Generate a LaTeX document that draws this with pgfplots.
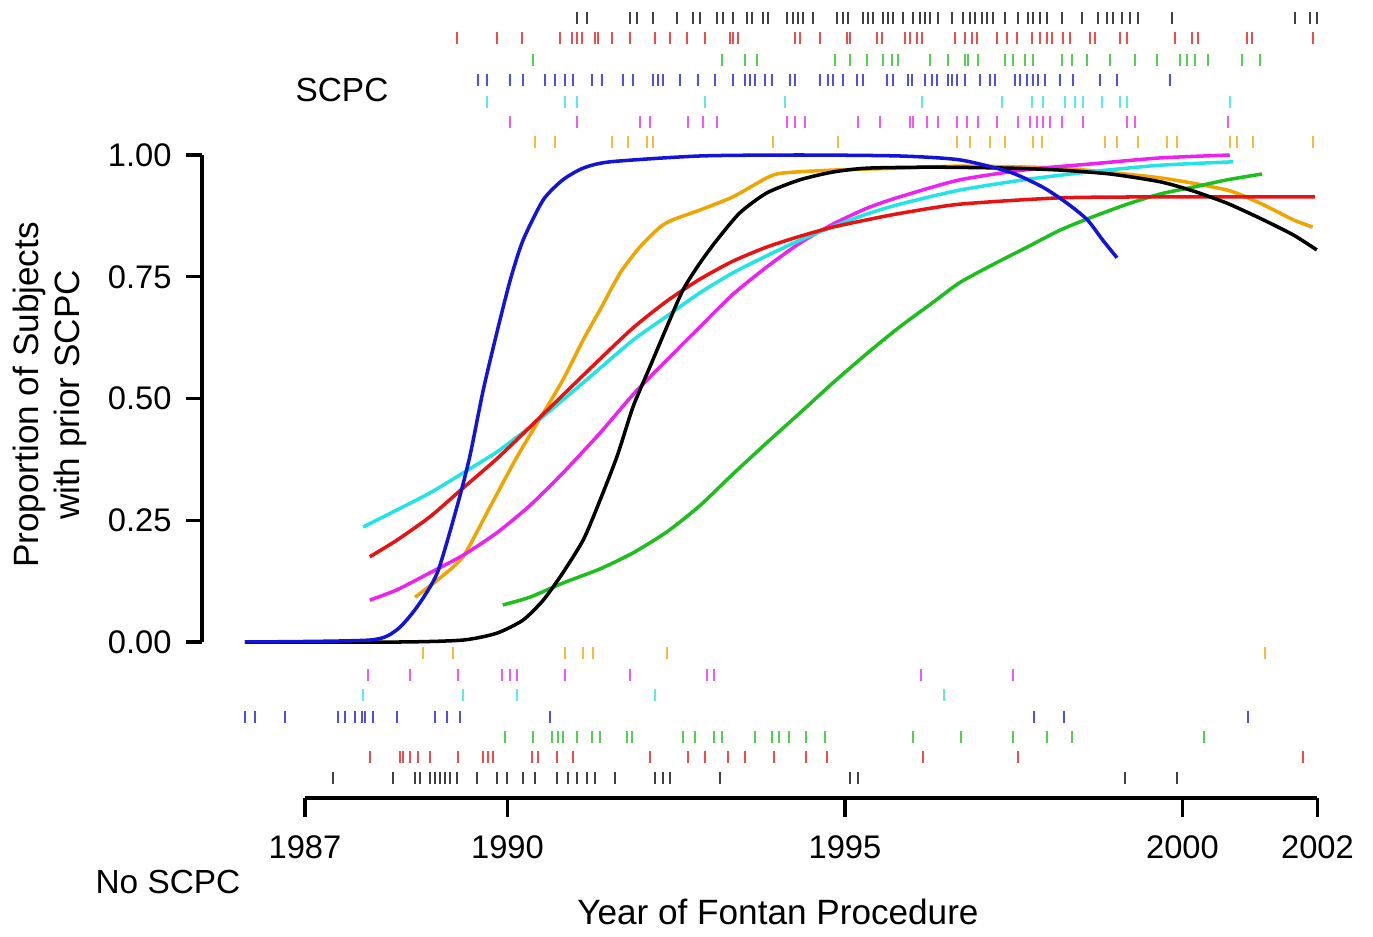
\documentclass[border=0pt]{standalone}
\usepackage{fontspec}
\setmainfont{Liberation Sans}
\usepackage{pgfplots}
\pgfplotsset{compat=1.18}
\definecolor{cBlue}{HTML}{1414D6}
\definecolor{cRed}{HTML}{E81212}
\definecolor{cGreen}{HTML}{1EBE1E}
\definecolor{cCyan}{HTML}{22E4E4}
\definecolor{cMag}{HTML}{EE22EE}
\definecolor{cOrange}{HTML}{F0A400}

\pgfplotsset{
  rug/.style={only marks, mark=|, mark size=0.06cm, #1, opacity=0.75,
    mark options={line width=0.6pt}},
  curve/.style={#1, line width=1pt, mark=none, smooth, tension=0.4},
}

\begin{document}
\begin{tikzpicture}
\begin{axis}[
    scale only axis,
    width=11.155cm, height=4.87cm,
    xmin=1985.474, xmax=2002,
    ymin=0, ymax=1,
    axis x line=none,
    axis y line*=left,
    y axis line style={line width=0.9pt, -},
    xtick=\empty,
    ytick={0,0.25,0.5,0.75,1},
    yticklabels={0.00,0.25,0.50,0.75,1.00},
    tick align=outside,
    major tick length=0.16cm,
    major tick style={line width=0.9pt, black},
    yticklabel style={font=\fontsize{9.3}{10}\selectfont, xshift=-0.02cm},
    /pgf/number format/assume math mode=true,
    clip=false,
]

% fitted curves
\addplot[curve=cOrange] coordinates {
(1988.63,0.092) (1988.96,0.127) (1989.34,0.175) (1989.74,0.277) (1990.14,0.380)
(1990.53,0.470) (1990.82,0.538) (1991.12,0.620) (1991.37,0.682) (1991.67,0.758)
(1991.96,0.811) (1992.26,0.852) (1992.45,0.867) (1992.85,0.887) (1993.34,0.914)
(1993.84,0.953) (1994.08,0.963) (1994.82,0.969) (1995.81,0.973) (1996.70,0.977)
(1998.19,0.973) (1999.67,0.953) (2000.66,0.928) (2001.15,0.901) (2001.64,0.867)
(2001.93,0.852)
};
\addplot[curve=cGreen] coordinates {
(1989.93,0.076) (1990.33,0.092) (1990.82,0.121) (1991.37,0.150) (1991.86,0.183)
(1992.36,0.226) (1992.85,0.280) (1993.34,0.345) (1993.84,0.409) (1994.33,0.470)
(1994.82,0.532) (1995.33,0.593) (1995.81,0.647) (1996.30,0.697) (1996.70,0.738)
(1997.19,0.775) (1997.70,0.811) (1998.19,0.846) (1998.67,0.873) (1999.18,0.899)
(1999.67,0.920) (2000.16,0.934) (2000.66,0.949) (2001.18,0.961)
};
\addplot[curve=cMag] coordinates {
(1987.96,0.086) (1988.36,0.107) (1988.85,0.142) (1989.34,0.178) (1989.84,0.224)
(1990.33,0.280) (1990.82,0.347) (1991.37,0.429) (1991.86,0.508) (1992.36,0.579)
(1992.85,0.647) (1993.34,0.714) (1993.84,0.770) (1994.33,0.819) (1994.82,0.858)
(1995.33,0.891) (1995.81,0.914) (1996.70,0.949) (1997.70,0.970) (1998.67,0.982)
(1999.67,0.994) (2000.70,1.000)
};
\addplot[curve=cCyan] coordinates {
(1987.86,0.236) (1988.36,0.271) (1988.85,0.306) (1989.34,0.347) (1989.84,0.390)
(1990.33,0.441) (1990.82,0.497) (1991.37,0.562) (1991.86,0.620) (1992.36,0.669)
(1992.85,0.717) (1993.34,0.758) (1993.84,0.793) (1994.33,0.825) (1994.82,0.853)
(1995.33,0.879) (1995.81,0.899) (1996.70,0.928) (1997.70,0.950) (1998.67,0.966)
(1999.67,0.979) (2000.75,0.986)
};
\addplot[curve=cRed] coordinates {
(1987.96,0.175) (1988.36,0.209) (1988.85,0.257) (1989.34,0.316) (1989.84,0.376)
(1990.33,0.441) (1990.82,0.507) (1991.37,0.581) (1991.86,0.645) (1992.36,0.700)
(1992.85,0.745) (1993.34,0.782) (1993.84,0.811) (1994.33,0.833) (1994.82,0.852)
(1995.33,0.867) (1995.81,0.880) (1996.70,0.899) (1998.19,0.912) (1999.67,0.914)
(2001.96,0.914)
};
\addplot[curve=black] coordinates {
(1986.11,0) (1988.41,0) (1989.34,0.004) (1989.84,0.018) (1990.23,0.045)
(1990.53,0.086) (1990.82,0.142) (1991.12,0.209) (1991.33,0.277) (1991.62,0.380)
(1991.86,0.483) (1992.11,0.565) (1992.36,0.647) (1992.60,0.723) (1992.85,0.778)
(1993.10,0.825) (1993.44,0.881) (1993.84,0.922) (1994.33,0.949) (1994.82,0.965)
(1995.33,0.973) (1996.30,0.975) (1997.44,0.973) (1998.19,0.969) (1998.93,0.961)
(1999.67,0.945) (2000.16,0.926) (2000.66,0.901) (2001.15,0.870) (2001.64,0.836)
(2001.99,0.805)
};
\addplot[curve=cBlue] coordinates {
(1986.11,0) (1987.96,0.004) (1988.36,0.025) (1988.66,0.072) (1988.96,0.142)
(1989.25,0.277) (1989.44,0.380) (1989.64,0.517) (1989.84,0.634) (1990.04,0.743)
(1990.23,0.825) (1990.53,0.908) (1990.82,0.949) (1991.12,0.973) (1991.52,0.986)
(1992.85,0.998) (1994.33,1.000) (1995.81,0.998) (1996.70,0.990) (1997.44,0.965)
(1997.93,0.934) (1998.29,0.901) (1998.59,0.867) (1998.82,0.825) (1999.03,0.789)
};

% rug: subjects with prior SCPC (top)
\addplot[rug=black] table[header=false, x index=0, y expr=1.281, row sep=\\] {
1991.03\\ 1991.18\\ 1991.81\\ 1991.92\\ 1992.16\\ 1992.51\\ 1992.75\\ 1992.85\\
1993.10\\ 1993.19\\ 1993.34\\ 1993.55\\ 1993.62\\ 1993.79\\ 1993.86\\ 1994.14\\
1994.23\\ 1994.30\\ 1994.38\\ 1994.53\\ 1994.88\\ 1994.97\\ 1995.04\\ 1995.27\\
1995.34\\ 1995.41\\ 1995.56\\ 1995.64\\ 1995.71\\ 1995.86\\ 1996.01\\ 1996.11\\
1996.19\\ 1996.26\\ 1996.38\\ 1996.59\\ 1996.75\\ 1996.85\\ 1996.93\\ 1997.03\\
1997.10\\ 1997.19\\ 1997.37\\ 1997.56\\ 1997.71\\ 1997.79\\ 1997.89\\ 1997.99\\
1998.21\\ 1998.51\\ 1998.75\\ 1998.88\\ 1998.97\\ 1999.10\\ 1999.22\\ 1999.34\\
1999.84\\ 2001.67\\ 2001.89\\ 2001.99\\
};
\addplot[rug=cRed] table[header=false, x index=0, y expr=1.240, row sep=\\] {
1989.25\\ 1989.84\\ 1990.21\\ 1990.78\\ 1990.96\\ 1991.03\\ 1991.10\\ 1991.30\\
1991.34\\ 1991.55\\ 1991.81\\ 1992.19\\ 1992.41\\ 1992.66\\ 1992.93\\ 1993.30\\
1993.34\\ 1993.41\\ 1994.26\\ 1994.33\\ 1994.63\\ 1995.03\\ 1995.07\\ 1995.47\\
1995.55\\ 1995.89\\ 1995.96\\ 1996.07\\ 1996.14\\ 1996.63\\ 1996.78\\ 1996.88\\
1996.96\\ 1997.25\\ 1997.40\\ 1997.55\\ 1997.77\\ 1997.89\\ 1997.99\\ 1998.07\\
1998.23\\ 1998.33\\ 1998.63\\ 1998.70\\ 1999.07\\ 1999.18\\ 1999.89\\ 2000.14\\
2000.23\\ 2000.96\\ 2001.03\\ 2001.93\\
};
\addplot[rug=cGreen] table[header=false, x index=0, y expr=1.195, row sep=\\] {
1990.38\\ 1993.18\\ 1993.52\\ 1993.70\\ 1994.85\\ 1995.07\\ 1995.33\\ 1995.56\\
1995.70\\ 1995.79\\ 1996.26\\ 1996.53\\ 1996.78\\ 1996.82\\ 1996.97\\ 1997.37\\
1997.49\\ 1997.67\\ 1997.79\\ 1998.21\\ 1998.36\\ 1998.59\\ 1998.93\\ 1999.30\\
1999.62\\ 1999.96\\ 2000.07\\ 2000.19\\ 2000.38\\ 2000.88\\ 2001.15\\
};
\addplot[rug=cBlue] table[header=false, x index=0, y expr=1.154, row sep=\\] {
1989.56\\ 1989.70\\ 1990.04\\ 1990.23\\ 1990.56\\ 1990.70\\ 1990.85\\ 1990.97\\
1991.25\\ 1991.40\\ 1991.71\\ 1991.86\\ 1992.16\\ 1992.23\\ 1992.30\\ 1992.56\\
1992.82\\ 1993.07\\ 1993.34\\ 1993.52\\ 1993.59\\ 1993.67\\ 1993.81\\ 1993.92\\
1994.19\\ 1994.26\\ 1994.63\\ 1994.75\\ 1994.82\\ 1994.97\\ 1995.18\\ 1995.27\\
1995.62\\ 1995.71\\ 1995.93\\ 1995.99\\ 1996.19\\ 1996.29\\ 1996.36\\ 1996.53\\
1996.59\\ 1996.66\\ 1996.78\\ 1997.00\\ 1997.15\\ 1997.22\\ 1997.52\\ 1997.59\\
1997.70\\ 1997.79\\ 1997.86\\ 1997.96\\ 1998.19\\ 1998.38\\ 1998.78\\ 1999.03\\
1999.81\\
};
\addplot[rug=cCyan] table[header=false, x index=0, y expr=1.109, row sep=\\] {
1989.70\\ 1990.85\\ 1991.03\\ 1992.93\\ 1994.11\\ 1996.14\\ 1997.33\\ 1997.77\\
1997.93\\ 1998.26\\ 1998.41\\ 1998.53\\ 1998.81\\ 1999.07\\ 1999.18\\ 2000.70\\
};
\addplot[rug=cMag] table[header=false, x index=0, y expr=1.068, row sep=\\] {
1990.04\\ 1991.03\\ 1991.96\\ 1992.11\\ 1992.67\\ 1992.90\\ 1993.10\\ 1994.14\\
1994.26\\ 1994.41\\ 1995.19\\ 1995.52\\ 1995.96\\ 1996.01\\ 1996.21\\ 1996.38\\
1996.66\\ 1996.81\\ 1996.97\\ 1997.25\\ 1997.56\\ 1997.74\\ 1997.84\\ 1997.93\\
1998.04\\ 1998.21\\ 1998.53\\ 1999.18\\ 1999.30\\ 2000.67\\
};
\addplot[rug=cOrange] table[header=false, x index=0, y expr=1.027, row sep=\\] {
1990.41\\ 1990.70\\ 1991.55\\ 1991.79\\ 1992.07\\ 1992.16\\ 1993.93\\ 1994.90\\
1996.66\\ 1996.85\\ 1997.15\\ 1997.37\\ 1997.79\\ 1997.92\\ 1998.85\\ 1999.03\\
1999.34\\ 1999.77\\ 1999.92\\ 2000.70\\ 2000.81\\ 2001.04\\ 2001.93\\
};

% rug: subjects without SCPC (bottom)
\addplot[rug=cOrange] table[header=false, x index=0, y expr=-0.023, row sep=\\] {
1988.75\\ 1989.19\\ 1990.85\\ 1991.12\\ 1991.27\\ 1992.36\\ 2001.22\\
};
\addplot[rug=cMag] table[header=false, x index=0, y expr=-0.068, row sep=\\] {
1987.93\\ 1988.56\\ 1989.27\\ 1989.92\\ 1990.04\\ 1990.14\\ 1990.85\\ 1991.81\\
1992.96\\ 1993.06\\ 1996.13\\ 1997.49\\
};
\addplot[rug=cCyan] table[header=false, x index=0, y expr=-0.109, row sep=\\] {
1987.86\\ 1989.34\\ 1990.14\\ 1992.19\\ 1996.47\\
};
\addplot[rug=cBlue] table[header=false, x index=0, y expr=-0.154, row sep=\\] {
1986.11\\ 1986.26\\ 1986.70\\ 1987.49\\ 1987.59\\ 1987.74\\ 1987.84\\ 1987.89\\
1988.01\\ 1988.36\\ 1988.93\\ 1989.10\\ 1989.30\\ 1990.63\\ 1997.80\\ 1998.24\\
2000.97\\
};
\addplot[rug=cGreen] table[header=false, x index=0, y expr=-0.195, row sep=\\] {
1989.96\\ 1990.38\\ 1990.66\\ 1990.75\\ 1990.82\\ 1991.03\\ 1991.25\\ 1991.37\\
1991.77\\ 1991.84\\ 1992.60\\ 1992.78\\ 1993.06\\ 1993.18\\ 1993.67\\ 1993.92\\
1994.02\\ 1994.17\\ 1994.42\\ 1994.70\\ 1996.01\\ 1996.72\\ 1997.49\\ 1997.99\\
1998.36\\ 2000.32\\
};
\addplot[rug=cRed] table[header=false, x index=0, y expr=-0.236, row sep=\\] {
1987.96\\ 1988.41\\ 1988.45\\ 1988.56\\ 1988.67\\ 1988.85\\ 1989.27\\ 1989.64\\
1989.71\\ 1989.79\\ 1990.36\\ 1990.45\\ 1990.73\\ 1990.97\\ 1992.11\\ 1992.67\\
1992.93\\ 1993.27\\ 1993.52\\ 1993.95\\ 1994.42\\ 1994.73\\ 1996.16\\ 1997.56\\
2001.79\\
};
\addplot[rug=black] table[header=false, x index=0, y expr=-0.279, row sep=\\] {
1987.41\\ 1988.30\\ 1988.63\\ 1988.70\\ 1988.85\\ 1988.93\\ 1989.00\\ 1989.07\\
1989.15\\ 1989.25\\ 1989.55\\ 1989.84\\ 1989.99\\ 1990.23\\ 1990.41\\ 1990.73\\
1990.90\\ 1991.03\\ 1991.18\\ 1991.30\\ 1991.59\\ 1992.19\\ 1992.30\\ 1992.41\\
1993.15\\ 1995.07\\ 1995.19\\ 1999.15\\ 1999.92\\
};
\end{axis}

% separate year axis, offset below the rugs
\begin{axis}[
    at={(1.03cm,-1.56cm)}, anchor=south west,
    scale only axis,
    width=10.125cm, height=1cm,
    xmin=1987, xmax=2002, ymin=0, ymax=1,
    axis x line*=bottom,
    axis y line=none,
    ytick=\empty,
    x axis line style={line width=1.3pt, -},
    xtick={1987,1990,1995,2000,2002},
    xticklabels={1987,1990,1995,2000,2002},
    tick align=outside,
    major tick length=0.19cm,
    major tick style={line width=1pt, black},
    xticklabel style={font=\fontsize{9.3}{10}\selectfont, yshift=-0.06cm},
]
\end{axis}

\node[font=\fontsize{9.5}{11}\selectfont] at (1.40,5.52) {SCPC};
\node[font=\fontsize{9.5}{11}\selectfont] at (-0.34,-2.40) {No SCPC};
\node[font=\fontsize{10}{12}\selectfont] at (5.76,-2.70) {Year of Fontan Procedure};
\node[font=\fontsize{10}{11.5}\selectfont, rotate=90, align=center] at (-1.52,2.47)
  {Proportion of Subjects\\with prior SCPC};

\path (-2.02,-2.89) rectangle (11.71,6.42);
\end{tikzpicture}
\end{document}
